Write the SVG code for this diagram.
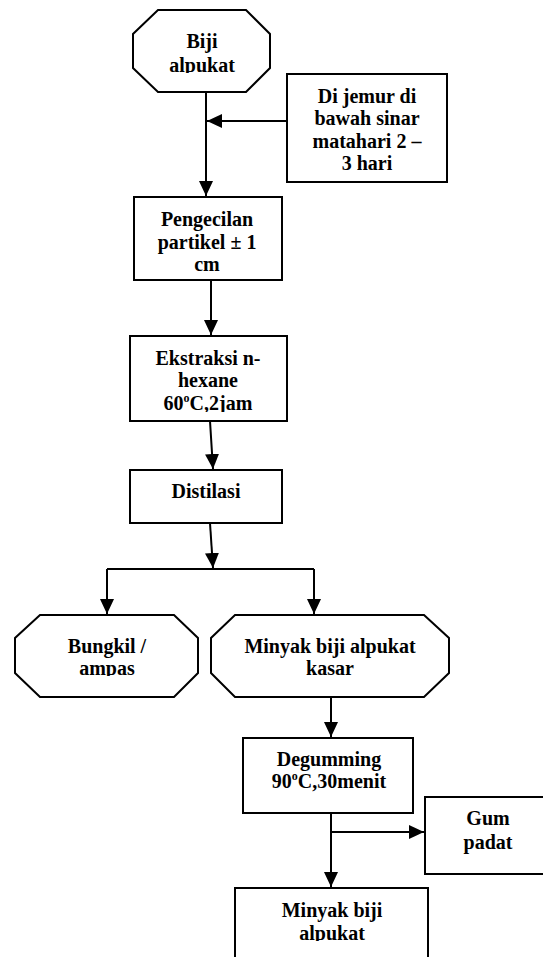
<svg xmlns="http://www.w3.org/2000/svg" width="543" height="957" viewBox="0 0 543 957">
<style>
.s{fill:#fff;stroke:#000;stroke-width:2}
.t{font-family:"Liberation Serif","Times New Roman",serif;font-weight:bold;font-size:20px;fill:#000;text-anchor:middle}
.c{fill:none;stroke:#000;stroke-width:2}
</style>
<defs>
<marker id="ah" markerWidth="15" markerHeight="14" refX="15" refY="7" orient="auto" markerUnits="userSpaceOnUse"><path d="M0,0 L15,7 L0,14 z" fill="#000"/></marker>
<clipPath id="cBiji" clipPathUnits="userSpaceOnUse"><rect x="133" y="10" width="137" height="63"/></clipPath>
<clipPath id="cPeng" clipPathUnits="userSpaceOnUse"><rect x="134" y="197" width="148" height="75"/></clipPath>
<clipPath id="cEks" clipPathUnits="userSpaceOnUse"><rect x="130" y="336" width="157" height="76"/></clipPath>
<clipPath id="cBung" clipPathUnits="userSpaceOnUse"><rect x="15" y="615" width="183" height="61"/></clipPath>
<clipPath id="cFin" clipPathUnits="userSpaceOnUse"><rect x="235" y="888" width="193" height="53"/></clipPath>
</defs>
<g id="connectors">
<path class="c" d="M206,92 V196" marker-end="url(#ah)"/>
<path class="c" d="M287,121 H207" marker-end="url(#ah)"/>
<path class="c" d="M211,280 V335" marker-end="url(#ah)"/>
<path class="c" d="M210,421 L213,469" marker-end="url(#ah)"/>
<path class="c" d="M210,523 L213,568" marker-end="url(#ah)"/>
<path class="c" d="M107,569 H314"/>
<path class="c" d="M107,569 V614" marker-end="url(#ah)"/>
<path class="c" d="M314,569 V614" marker-end="url(#ah)"/>
<path class="c" d="M331,697 V737" marker-end="url(#ah)"/>
<path class="c" d="M331,813 V887" marker-end="url(#ah)"/>
<path class="c" d="M331,832 H424" marker-end="url(#ah)"/>
</g>
<g id="biji">
<polygon class="s" points="158,10 246,10 270,34 270,68 246,92 158,92 133,68 133,34"/>
<g clip-path="url(#cBiji)"><text class="t" x="202" y="48">Biji</text><text class="t" x="202" y="72">alpukat</text></g>
</g>
<g id="jemur">
<rect class="s" x="287" y="74" width="160" height="108"/>
<text class="t" x="367" y="103">Di jemur di</text>
<text class="t" x="367" y="125">bawah sinar</text>
<text class="t" x="367" y="148">matahari 2 –</text>
<text class="t" x="367" y="170">3 hari</text>
</g>
<g id="pengecilan">
<rect class="s" x="134" y="197" width="148" height="83"/>
<g clip-path="url(#cPeng)"><text class="t" x="207" y="226">Pengecilan</text><text class="t" x="207" y="249">partikel ± 1</text><text class="t" x="207" y="271">cm</text></g>
</g>
<g id="ekstraksi">
<rect class="s" x="130" y="336" width="157" height="85"/>
<g clip-path="url(#cEks)"><text class="t" x="208" y="365">Ekstraksi n-</text><text class="t" x="208" y="387">hexane</text><text class="t" x="208" y="410">60<tspan font-size="12" dy="-8">o</tspan><tspan dy="8">C,2jam</tspan></text></g>
</g>
<g id="distilasi">
<rect class="s" x="130" y="470" width="152" height="53"/>
<text class="t" x="206" y="498">Distilasi</text>
</g>
<g id="bungkil">
<polygon class="s" points="40,615 174,615 198,638 198,673 174,697 40,697 15,673 15,638"/>
<g clip-path="url(#cBung)"><text class="t" x="107" y="653">Bungkil /</text><text class="t" x="107" y="675">ampas</text></g>
</g>
<g id="kasar">
<polygon class="s" points="235,615 424,615 449,638 449,673 424,697 235,697 211,673 211,638"/>
<text class="t" x="330" y="653">Minyak biji alpukat</text>
<text class="t" x="330" y="675">kasar</text>
</g>
<g id="degumming">
<rect class="s" x="243" y="738" width="170" height="75"/>
<text class="t" x="329" y="766">Degumming</text>
<text class="t" x="329" y="788">90<tspan font-size="12" dy="-8">o</tspan><tspan dy="8">C,30menit</tspan></text>
</g>
<g id="gum">
<rect class="s" x="425" y="797" width="128" height="77"/>
<text class="t" x="488" y="825">Gum</text>
<text class="t" x="488" y="849">padat</text>
</g>
<g id="final">
<rect class="s" x="235" y="888" width="193" height="80"/>
<g clip-path="url(#cFin)"><text class="t" x="332" y="917">Minyak biji</text><text class="t" x="332" y="940">alpukat</text></g>
</g>
</svg>
